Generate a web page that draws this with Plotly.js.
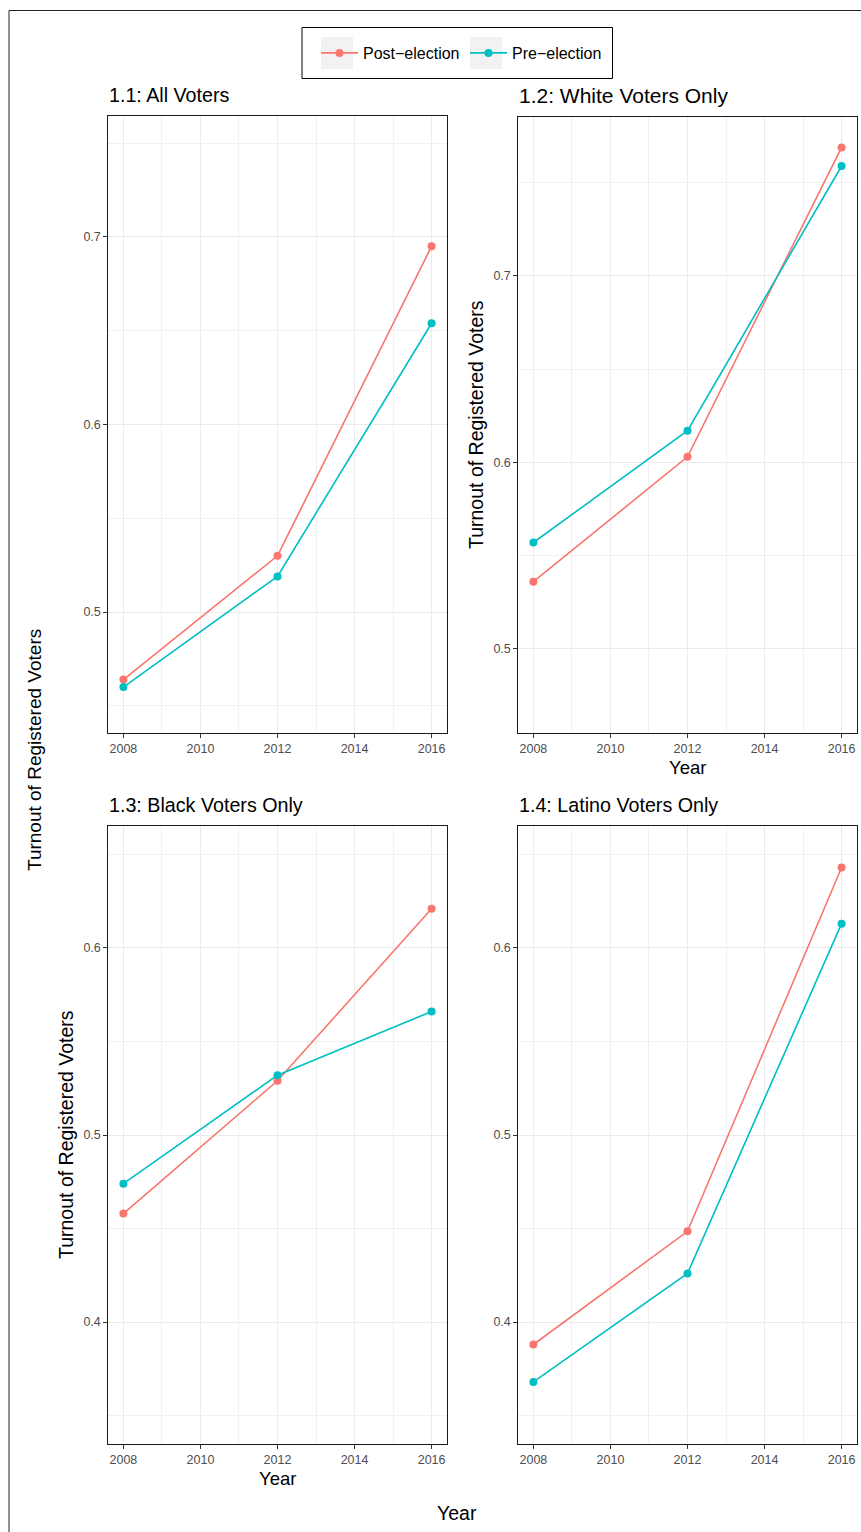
<!DOCTYPE html>
<html>
<head>
<meta charset="utf-8">
<script src="https://cdn.plot.ly/plotly-3.0.1.min.js"></script>
<style>
  html, body { margin: 0; padding: 0; background: #ffffff; }
  #chart { width: 861px; height: 1532px; }
</style>
</head>
<body>
<div id="chart"></div>
<script>
// ---------------- data ----------------
const years = [2008, 2012, 2016];
const seriesNames = ["Post\u2212election", "Pre\u2212election"];
const panelTitles = ["1.1: All Voters", "1.2: White Voters Only", "1.3: Black Voters Only", "1.4: Latino Voters Only"];

const allPost    = [0.464, 0.530, 0.695];
const allPre     = [0.460, 0.519, 0.654];
const whitePost  = [0.536, 0.603, 0.769];
const whitePre   = [0.557, 0.617, 0.759];
const blackPost  = [0.458, 0.529, 0.621];
const blackPre   = [0.474, 0.532, 0.566];
const latinoPost = [0.388, 0.4485, 0.643];
const latinoPre  = [0.368, 0.426, 0.613];

const yTitle = "Turnout of Registered Voters";
const xTitle = "Year";

// ---------------- styling / layout ----------------
const W = 861, H = 1532;
const px = x => x / W;
const py = y => 1 - y / H;
const FONT = '"Liberation Sans", Arial, Helvetica, sans-serif';
const colors = ["#F8766D", "#00BFC4"];

const panelData = [[allPost, allPre], [whitePost, whitePre], [blackPost, blackPre], [latinoPost, latinoPre]];
const yRanges = [[0.4355, 0.7645], [0.4548, 0.7853], [0.3348, 0.6652], [0.3348, 0.6652]];
// pixel boxes: [left, right, top, bottom]
const boxes = [[108, 447, 116, 733], [518, 857, 117, 733], [108, 447, 826, 1444], [518, 857, 826, 1444]];
const titleSizes = [19.7, 21, 19.7, 19.7];

const traces = [];
panelData.forEach((pair, i) => {
  const suffix = i === 0 ? "" : String(i + 1);
  pair.forEach((vals, s) => {
    traces.push({
      type: "scatter",
      mode: "lines+markers",
      x: years,
      y: vals,
      name: seriesNames[s],
      legendgroup: seriesNames[s],
      showlegend: i === 0,
      xaxis: "x" + suffix,
      yaxis: "y" + suffix,
      line: { color: colors[s], width: 1.6 },
      marker: { color: colors[s], size: 8 },
      hoverinfo: "skip"
    });
  });
});

const layout = {
  width: W, height: H,
  margin: { l: 0, r: 0, t: 0, b: 0 },
  paper_bgcolor: "#ffffff",
  plot_bgcolor: "#ffffff",
  font: { family: FONT, color: "#000000" },
  showlegend: true,
  legend: {
    orientation: "h",
    x: px(316), xanchor: "left",
    y: py(53), yanchor: "middle",
    bgcolor: "rgba(0,0,0,0)",
    borderwidth: 0,
    font: { family: FONT, size: 16, color: "#000000" },
    entrywidth: 97,
    entrywidthmode: "pixels",
    itemwidth: 37
  },
  annotations: [],
  shapes: [
    // outer frame (extends beyond the picture on right/bottom)
    { type: "rect", xref: "paper", yref: "paper", x0: px(9), x1: 1.05, y0: -0.05, y1: py(10.5),
      line: { color: "#222222", width: 1 }, fillcolor: "rgba(0,0,0,0)", layer: "below" },
    // legend box
    { type: "rect", xref: "paper", yref: "paper", x0: px(302), x1: px(612.5), y0: py(78.5), y1: py(27.5),
      line: { color: "#000000", width: 1 }, fillcolor: "#ffffff", layer: "below" },
    // legend key backgrounds
    { type: "rect", xref: "paper", yref: "paper", x0: px(321), x1: px(353), y0: py(69), y1: py(37),
      line: { width: 0 }, fillcolor: "#F2F2F2", layer: "below" },
    { type: "rect", xref: "paper", yref: "paper", x0: px(470), x1: px(502), y0: py(69), y1: py(37),
      line: { width: 0 }, fillcolor: "#F2F2F2", layer: "below" }
  ]
};

boxes.forEach((b, i) => {
  const suffix = i === 0 ? "" : String(i + 1);
  layout["xaxis" + suffix] = {
    domain: [px(b[0]), px(b[1])],
    anchor: "y" + suffix,
    range: [2007.6, 2016.4],
    tick0: 2008, dtick: 2,
    showgrid: true, gridcolor: "#EBEBEB", gridwidth: 1,
    minor: { dtick: 1, tick0: 2008, showgrid: true, gridcolor: "#EBEBEB", gridwidth: 0.7, ticks: "" },
    zeroline: false,
    showline: true, mirror: true, linecolor: "#1a1a1a", linewidth: 1.2,
    ticks: "outside", ticklen: 3.5, tickwidth: 1, tickcolor: "#333333",
    tickfont: { family: FONT, size: 12.5, color: "#4D4D4D" },
    fixedrange: true
  };
  layout["yaxis" + suffix] = {
    domain: [py(b[3]), py(b[2])],
    anchor: "x" + suffix,
    range: yRanges[i],
    tick0: 0, dtick: 0.1,
    tickformat: ".1f",
    showgrid: true, gridcolor: "#EBEBEB", gridwidth: 1,
    minor: { dtick: 0.05, tick0: 0, showgrid: true, gridcolor: "#EBEBEB", gridwidth: 0.7, ticks: "" },
    zeroline: false,
    showline: true, mirror: true, linecolor: "#1a1a1a", linewidth: 1.2,
    ticks: "outside", ticklen: 3.5, tickwidth: 1, tickcolor: "#333333",
    tickfont: { family: FONT, size: 12.5, color: "#4D4D4D" },
    fixedrange: true
  };
  layout.annotations.push({
    text: panelTitles[i], xref: "paper", yref: "paper",
    x: px(b[0] - 1), y: py(b[2] - 21), xanchor: "left", yanchor: "middle",
    showarrow: false, font: { family: FONT, size: titleSizes[i], color: "#000000" }
  });
});

// axis titles (panel-level and figure-level)
const titleAnn = (text, x, y, size, angle) => ({
  text, xref: "paper", yref: "paper", x: px(x), y: py(y),
  xanchor: "center", yanchor: "middle", textangle: angle || 0,
  showarrow: false, font: { family: FONT, size, color: "#000000" }
});
layout.annotations.push(titleAnn(xTitle, 687.5, 767, 18.5));
layout.annotations.push(titleAnn(xTitle, 277.5, 1478, 18.5));
layout.annotations.push(titleAnn(xTitle, 457.5, 1513, 19.5));
layout.annotations.push(titleAnn(yTitle, 476, 425, 19.5, -90));
layout.annotations.push(titleAnn(yTitle, 66, 1135, 19.5, -90));
layout.annotations.push(titleAnn(yTitle, 35, 750, 19, -90));

Plotly.newPlot("chart", traces, layout, { displayModeBar: false, staticPlot: true });
</script>
</body>
</html>
